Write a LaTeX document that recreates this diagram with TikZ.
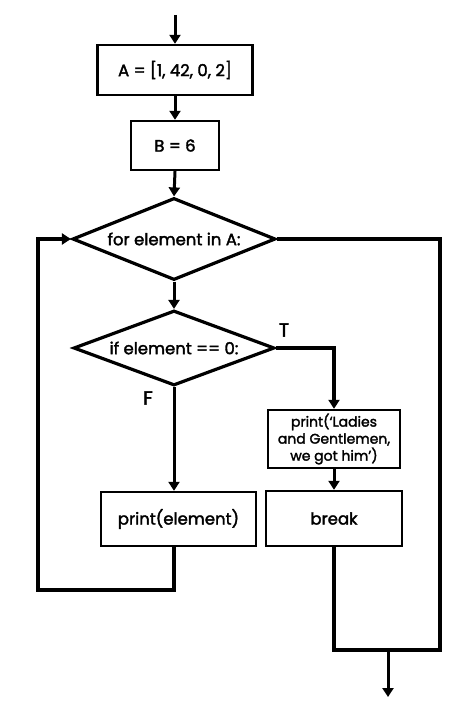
\documentclass[tikz,border=0pt]{standalone}
\usepackage{fontspec}
\setmainfont{Poppins}[FakeBold=2]
\usetikzlibrary{arrows.meta,shapes.geometric}
\begin{document}
\begin{tikzpicture}[x=1pt,y=-1pt,
  box/.style={draw,line width=2.4pt,minimum width=#1,inner sep=0pt,font=\fontsize{16.5}{18}\selectfont},
  dia/.style={draw,line width=3.2pt,diamond,inner sep=0pt,font=\fontsize{16.5}{18}\selectfont},
  conn/.style={line width=3pt,-{Triangle[length=9pt,width=11pt]}},
  heavy/.style={line width=4.8pt},
  lbl/.style={font=\fontsize{19}{20}\selectfont}]
\useasboundingbox (0,0) rectangle (474,708);
\coordinate (start) at (175,15);
\node[box=155pt,minimum height=50pt] (A) at (175,70) {A = [1, 42, 0, 2]};
\node[box=88pt,minimum height=49pt] (B) at (175,145.5) {B = 6};
\node[dia,aspect=2.48,minimum width=203pt,minimum height=82pt] (for) at (174,239) {for element in A:};
\node[dia,aspect=2.68,minimum width=201pt,minimum height=75pt] (if) at (174,348) {if element == 0:};
\node[box=132pt,minimum height=58pt,align=center,font=\fontsize{14}{17}\selectfont] (P) at (334,439) {print(‘Ladies\\and Gentlemen,\\we got him’)};
\node[box=136pt,minimum height=55pt] (brk) at (334,518.5) {break};
\node[box=155pt,minimum height=54pt] (pe) at (178.5,519) {print(element)};
\node[lbl] (T) at (284,330) {T};
\node[lbl] (F) at (148,398) {F};
\coordinate (endp) at (388,697);
\coordinate (endtop) at (388,652);
\coordinate (loopbot) at (38,590);
\coordinate (exitcorner) at (440,650);
\draw[conn] (start) -- (A.north);
\draw[conn] (A.south) -- (B.north);
\draw[conn] (B.south) -- (for.north);
\draw[conn] (for.south) -- (if.north);
\draw[line width=3.8pt,-{Triangle[length=9pt,width=11pt]}] (if.east) -| (P.north);
\draw[conn] (if.south) -- (if.south |- pe.north);
\draw[conn] (P.south) -- (brk.north);
\draw[heavy,-{Triangle[length=9pt,width=11pt]}] (if.south |- pe.south) |- (loopbot) |- (for.west);
\draw[heavy,line join=miter] (brk.south) |- (exitcorner) |- (for.east);
\draw[conn] (endtop) -- (endp);
\end{tikzpicture}
\end{document}
